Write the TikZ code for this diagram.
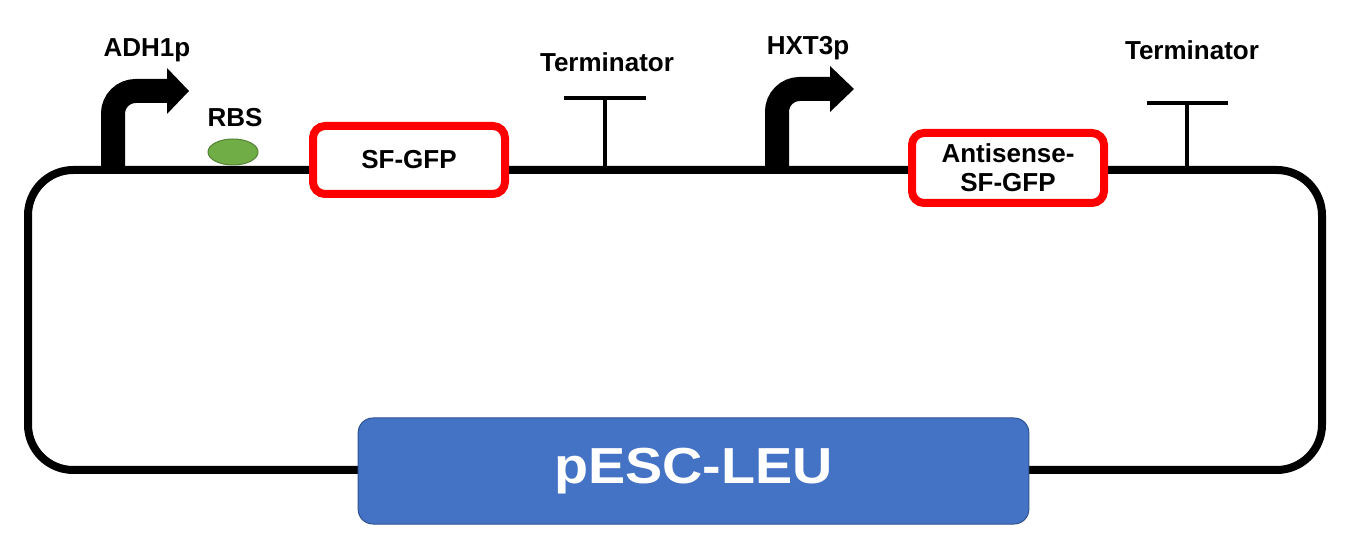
\documentclass[tikz,border=0pt]{standalone}
\usepackage{fontspec}
\setmainfont{Liberation Sans}
\newfontfamily\widefont[FakeStretch=1.1]{Liberation Sans}
\usetikzlibrary{shapes.geometric}
\definecolor{plasblue}{RGB}{68,114,196}
\definecolor{plasblueedge}{RGB}{47,82,143}
\definecolor{rbsgreen}{RGB}{112,173,71}
\definecolor{rbsedge}{RGB}{84,130,53}
\begin{document}
\begin{tikzpicture}[x=0.75pt,y=-0.75pt,
  lbl/.style={font=\bfseries\fontsize{19.5}{22}\selectfont, inner sep=0},
  cds/.style={draw=red, line width=6pt, rounded corners=9pt, fill=white,
    font=\bfseries\fontsize{19.5}{22}\selectfont, align=center, inner sep=0,
    minimum width=144pt},
  backbone/.style={line width=6pt},
  termline/.style={line width=3pt},
  promoter/.style={line width=18pt, rounded corners=17pt},
  promhead/.style={fill=black}]
\useasboundingbox (0,0) rectangle (1349,555);
% backbone
\draw[backbone, rounded corners=34pt] (28,170) rectangle (1322,470);
% promoter ADH1p
\coordinate (p1base) at (113,173);
\coordinate (p1bend) at (113,91);
\coordinate (p1end) at (168,91);
\draw[promoter] (p1base) -- (p1bend) -- (p1end);
\fill[promhead] (167,68) -- (189,91) -- (167,114) -- cycle;
\node[lbl] (adh) at (147,50) {ADH1p};
% RBS
\node[ellipse, draw=rbsedge, fill=rbsgreen, line width=0.75pt, minimum width=37.5pt, minimum height=19.5pt] (rbs) at (233,152) {};
\node[lbl] (rbsl) at (235,118) {RBS};
% SF-GFP
\node[cds, minimum height=51pt] (sfgfp) at (409,160) {SF-GFP};
% terminator 1
\coordinate (t1base) at (605,170);
\coordinate (t1top) at (605,98);
\coordinate (t1l) at (564,98);
\coordinate (t1r) at (646,98);
\draw[termline] (t1base) -- (t1top);
\draw[termline] (t1l) -- (t1r);
\node[lbl] (term1) at (607,62) {Terminator};
% promoter HXT3p
\coordinate (p2base) at (777,173);
\coordinate (p2bend) at (777,89);
\coordinate (p2end) at (831,89);
\draw[promoter] (p2base) -- (p2bend) -- (p2end);
\fill[promhead] (830,66) -- (854,89) -- (830,112) -- cycle;
\node[lbl] (hxt) at (808,48) {HXT3p};
% antisense
\node[cds, minimum height=52.5pt] (anti) at (1008,168) {Antisense-\\SF-GFP};
% terminator 2
\coordinate (t2base) at (1187,170);
\coordinate (t2top) at (1187,103);
\coordinate (t2l) at (1147,103);
\coordinate (t2r) at (1228,103);
\draw[termline] (t2base) -- (t2top);
\draw[termline] (t2l) -- (t2r);
\node[lbl] (term2) at (1192,50) {Terminator};
% plasmid name
\node[draw=plasblueedge, fill=plasblue, line width=0.75pt, rounded corners=11pt,
  minimum width=503pt, minimum height=79.5pt, text=white,
  font=\widefont\bfseries\fontsize{38}{42}\selectfont] (pesc) at (693.5,471) {pESC-LEU};
\end{tikzpicture}
\end{document}
